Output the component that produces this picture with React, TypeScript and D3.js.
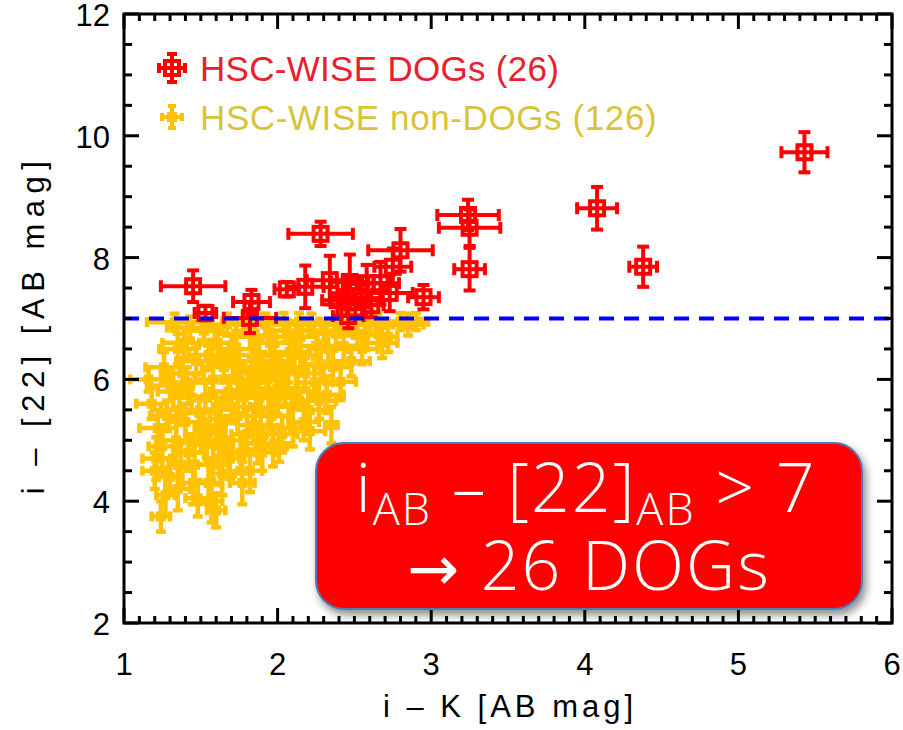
import React from "react";
import * as d3 from "d3";

// HSC-WISE DOGs: [i-K, i-[22], xErr, yErr]
const dogs: number[][] = [
  [1.45, 7.53, 0.21, 0.26],
  [1.53, 7.09, 0.07, 0.12],
  [1.83, 7.27, 0.12, 0.2],
  [1.82, 7.01, 0.17, 0.25],
  [2.06, 7.48, 0.08, 0.12],
  [2.18, 7.52, 0.12, 0.35],
  [2.28, 8.39, 0.21, 0.2],
  [2.34, 7.63, 0.15, 0.4],
  [2.47, 7.6, 0.12, 0.45],
  [2.45, 7.35, 0.1, 0.3],
  [2.46, 7.04, 0.1, 0.2],
  [2.58, 7.58, 0.14, 0.3],
  [2.67, 7.58, 0.12, 0.35],
  [2.73, 7.42, 0.15, 0.3],
  [2.75, 7.85, 0.12, 0.3],
  [2.8, 8.12, 0.21, 0.35],
  [2.95, 7.35, 0.1, 0.2],
  [2.55, 7.3, 0.12, 0.25],
  [2.39, 7.3, 0.1, 0.3],
  [3.24, 8.7, 0.2, 0.25],
  [3.25, 8.49, 0.2, 0.3],
  [3.25, 7.81, 0.1, 0.35],
  [4.08, 8.81, 0.13, 0.35],
  [4.38, 7.85, 0.09, 0.33],
  [5.43, 9.73, 0.15, 0.33],
  [2.61, 7.22, 0.08, 0.2],
];

// HSC-WISE non-DOGs: [i-K, i-[22], xErr, yErr]
const nonDogs: number[][] = [
  [1.18, 5.6, 0.1, 0.25], [1.22, 5.2, 0.12, 0.3], [1.25, 4.9, 0.09, 0.35], [1.2, 4.5, 0.08, 0.3],
  [1.27, 4.1, 0.06, 0.35], [1.24, 3.75, 0.06, 0.25], [1.3, 5.9, 0.15, 0.25], [1.16, 6.0, 0.12, 0.2],
  [1.28, 5.4, 0.11, 0.25], [1.21, 4.7, 0.09, 0.35], [1.3, 4.4, 0.08, 0.3], [1.26, 6.2, 0.12, 0.25],
  [1.33, 6.94, 0.18, 0.14], [1.35, 6.5, 0.12, 0.25], [1.38, 6.1, 0.14, 0.25], [1.32, 5.8, 0.1, 0.3],
  [1.36, 5.5, 0.12, 0.25], [1.4, 5.3, 0.11, 0.3], [1.34, 5.0, 0.09, 0.35], [1.42, 4.8, 0.1, 0.3],
  [1.37, 4.6, 0.08, 0.35], [1.45, 4.3, 0.09, 0.35], [1.48, 4.05, 0.08, 0.3], [1.44, 5.7, 0.12, 0.25],
  [1.47, 6.3, 0.13, 0.22], [1.39, 6.6, 0.14, 0.25], [1.5, 5.1, 0.1, 0.3], [1.46, 4.6, 0.09, 0.33],
  [1.41, 5.95, 0.12, 0.25], [1.49, 5.45, 0.11, 0.27], [1.43, 6.85, 0.15, 0.18], [1.35, 4.2, 0.08, 0.35],
  [1.52, 6.8, 0.12, 0.22], [1.55, 6.4, 0.13, 0.25], [1.58, 6.0, 0.12, 0.27], [1.53, 5.7, 0.11, 0.25],
  [1.6, 5.5, 0.12, 0.3], [1.56, 5.2, 0.1, 0.3], [1.62, 4.9, 0.09, 0.35], [1.58, 4.6, 0.1, 0.33],
  [1.6, 3.85, 0.06, 0.28], [1.55, 4.3, 0.08, 0.35], [1.65, 6.2, 0.14, 0.25], [1.68, 5.8, 0.12, 0.25],
  [1.63, 5.35, 0.11, 0.27], [1.66, 5.0, 0.1, 0.3], [1.7, 6.5, 0.13, 0.22], [1.67, 6.9, 0.14, 0.18],
  [1.54, 5.0, 0.09, 0.3], [1.61, 6.6, 0.12, 0.25], [1.69, 4.7, 0.09, 0.33], [1.57, 4.0, 0.07, 0.35],
  [1.64, 4.45, 0.08, 0.35], [1.7, 5.55, 0.12, 0.27],
  [1.72, 6.3, 0.13, 0.25], [1.75, 6.0, 0.12, 0.25], [1.78, 5.7, 0.12, 0.27], [1.74, 5.4, 0.11, 0.3],
  [1.8, 5.1, 0.1, 0.3], [1.76, 4.8, 0.09, 0.33], [1.82, 4.5, 0.08, 0.35], [1.85, 6.7, 0.14, 0.22],
  [1.88, 6.4, 0.13, 0.25], [1.83, 6.1, 0.12, 0.25], [1.86, 5.85, 0.12, 0.27], [1.89, 5.5, 0.11, 0.3],
  [1.84, 5.25, 0.1, 0.3], [1.87, 4.95, 0.09, 0.33], [1.73, 6.75, 0.14, 0.18], [1.79, 6.95, 0.15, 0.14],
  [1.9, 6.2, 0.13, 0.25], [1.77, 4.3, 0.08, 0.35], [1.81, 5.95, 0.12, 0.25], [1.9, 4.8, 0.09, 0.3],
  [1.92, 6.9, 0.14, 0.18], [1.95, 6.6, 0.13, 0.22], [1.98, 6.3, 0.13, 0.25], [1.93, 6.0, 0.12, 0.25],
  [2.0, 5.7, 0.12, 0.27], [1.96, 5.4, 0.11, 0.3], [2.03, 5.1, 0.1, 0.3], [2.06, 6.8, 0.14, 0.18],
  [2.08, 6.45, 0.13, 0.25], [2.02, 6.15, 0.12, 0.25], [2.05, 5.85, 0.12, 0.27], [2.09, 5.55, 0.11, 0.3],
  [1.97, 4.9, 0.09, 0.33], [2.1, 5.2, 0.1, 0.3], [1.94, 5.75, 0.12, 0.25], [2.04, 6.95, 0.14, 0.14],
  [2.01, 4.95, 0.09, 0.3], [2.07, 6.2, 0.12, 0.25],
  [2.12, 6.7, 0.14, 0.22], [2.15, 6.4, 0.13, 0.25], [2.18, 6.1, 0.12, 0.25], [2.13, 5.8, 0.12, 0.27],
  [2.2, 5.5, 0.11, 0.3], [2.17, 5.3, 0.1, 0.3], [2.22, 6.9, 0.15, 0.18], [2.25, 6.55, 0.14, 0.22],
  [2.28, 6.25, 0.13, 0.25], [2.24, 5.95, 0.12, 0.27], [2.27, 5.65, 0.11, 0.3], [2.14, 6.95, 0.14, 0.14],
  [2.3, 6.8, 0.14, 0.18], [2.21, 5.15, 0.1, 0.3],
  [2.33, 6.5, 0.13, 0.25], [2.36, 6.2, 0.12, 0.27], [2.41, 5.96, 0.1, 0.3], [2.35, 5.25, 0.04, 0.3],
  [2.38, 6.75, 0.14, 0.22], [2.43, 6.55, 0.12, 0.25], [2.46, 6.9, 0.14, 0.18], [2.32, 5.75, 0.11, 0.3],
  [2.48, 6.3, 0.12, 0.25], [2.4, 6.95, 0.14, 0.14],
  [2.52, 6.75, 0.12, 0.22], [2.57, 6.73, 0.08, 0.25], [2.72, 6.7, 0.06, 0.25], [2.6, 6.95, 0.12, 0.18],
  [2.65, 6.9, 0.14, 0.18], [2.85, 6.9, 0.1, 0.18], [2.55, 6.5, 0.1, 0.25], [2.8, 6.95, 0.14, 0.14],
  [2.9, 6.95, 0.08, 0.14], [2.68, 6.6, 0.1, 0.25],
];

const xTicks = [1, 2, 3, 4, 5, 6];
const yTicks = [2, 4, 6, 8, 10, 12];
const cutValue = 7;
const legendLabels = ["HSC-WISE DOGs (26)", "HSC-WISE non-DOGs (126)"];

const W = 903;
const H = 730;
const plot = { left: 124, right: 892, top: 14, bottom: 623 };
const RED = "#ff0000";
const YELLOW = "#ffc200";
const FONT = "'Liberation Sans', Arial, sans-serif";

function ErrPoint({ cx, cy, x0, x1, y0, y1, color, cap, kind, sw }: any) {
  return (
    <g stroke={color} strokeWidth={sw} fill="none">
      <line x1={x0} x2={x1} y1={cy} y2={cy} />
      <line x1={cx} x2={cx} y1={y0} y2={y1} />
      <line x1={x0} x2={x0} y1={cy - cap} y2={cy + cap} />
      <line x1={x1} x2={x1} y1={cy - cap} y2={cy + cap} />
      <line x1={cx - cap} x2={cx + cap} y1={y0} y2={y0} />
      <line x1={cx - cap} x2={cx + cap} y1={y1} y2={y1} />
      {kind === "open" ? (
        <rect x={cx - 7} y={cy - 7} width={14} height={14} strokeWidth={4} />
      ) : (
        <rect x={cx - 5} y={cy - 5} width={10} height={10} fill={color} stroke="none" />
      )}
    </g>
  );
}

export default function App() {
  const x = d3.scaleLinear().domain([1, 6]).range([plot.left, plot.right]);
  const y = d3.scaleLinear().domain([2, 12]).range([plot.bottom, plot.top]);

  const xMinor = d3.range(10, 61).map((v) => v / 10);
  const yMinor = d3.range(4, 25).map((v) => v / 2);

  const pt = (d: number[], color: string, cap: number, kind: string, sw: number, key: string) => (
    <ErrPoint
      key={key}
      cx={x(d[0])}
      cy={y(d[1])}
      x0={x(d[0] - d[2])}
      x1={x(d[0] + d[2])}
      y0={y(d[1] - d[3])}
      y1={y(d[1] + d[3])}
      color={color}
      cap={cap}
      kind={kind}
      sw={sw}
    />
  );

  const legX = 172;
  const legY = [68, 117];

  return (
    <svg width={W} height={H} style={{ position: "absolute", left: 0, top: 0, background: "#fff" }}>
      <defs>
        <filter id="shadow" x="-10%" y="-10%" width="120%" height="130%">
          <feDropShadow dx="3" dy="5" stdDeviation="4" floodColor="#000" floodOpacity="0.45" />
        </filter>
      </defs>

      {/* yellow non-DOGs */}
      {nonDogs.map((d, i) => pt(d, YELLOW, 5, "fill", 4.5, "n" + i))}
      {/* red DOGs */}
      {dogs.map((d, i) => pt(d, RED, 6, "open", 4, "d" + i))}

      {/* cut line */}
      <line
        x1={x(1)}
        x2={x(6)}
        y1={y(cutValue)}
        y2={y(cutValue)}
        stroke="#0000ff"
        strokeWidth={4}
        strokeDasharray="15 10"
      />

      {/* frame + ticks */}
      <g stroke="#000" strokeWidth={3}>
        <rect
          x={plot.left}
          y={plot.top}
          width={plot.right - plot.left}
          height={plot.bottom - plot.top}
          fill="none"
        />
        {xMinor.map((v, i) => {
          const len = Math.abs(v - Math.round(v)) < 1e-6 ? 15 : 7;
          return (
            <g key={"xt" + i}>
              <line x1={x(v)} x2={x(v)} y1={plot.bottom} y2={plot.bottom - len} />
              <line x1={x(v)} x2={x(v)} y1={plot.top} y2={plot.top + len} />
            </g>
          );
        })}
        {yMinor.map((v, i) => {
          const len = v % 2 === 0 ? 15 : 8;
          return (
            <g key={"yt" + i}>
              <line x1={plot.left} x2={plot.left + len} y1={y(v)} y2={y(v)} />
              <line x1={plot.right} x2={plot.right - len} y1={y(v)} y2={y(v)} />
            </g>
          );
        })}
      </g>

      {/* tick labels */}
      <g fontFamily={FONT} fontSize={31} fill="#000">
        {xTicks.map((t) => (
          <text key={"xl" + t} x={x(t)} y={plot.bottom + 52} textAnchor="middle">
            {t}
          </text>
        ))}
        {yTicks.map((t) => (
          <text key={"yl" + t} x={plot.left - 14} y={y(t) + 12} textAnchor="end">
            {t}
          </text>
        ))}
      </g>

      {/* axis titles */}
      <text
        x={(plot.left + plot.right) / 2 + 2}
        y={717}
        textAnchor="middle"
        fontFamily={FONT}
        fontSize={31}
        letterSpacing={4}
      >
        i – K [AB mag]
      </text>
      <text
        transform={`translate(44, ${(plot.top + plot.bottom) / 2 + 6}) rotate(-90)`}
        textAnchor="middle"
        fontFamily={FONT}
        fontSize={31}
        letterSpacing={6.5}
      >
        i – [22] [AB mag]
      </text>

      {/* legend */}
      <g stroke={RED} strokeWidth={4} fill="none">
        <line x1={legX - 13} x2={legX + 13} y1={legY[0]} y2={legY[0]} />
        <line x1={legX} x2={legX} y1={legY[0] - 14} y2={legY[0] + 14} />
        <line x1={legX - 13} x2={legX - 13} y1={legY[0] - 5} y2={legY[0] + 5} />
        <line x1={legX + 13} x2={legX + 13} y1={legY[0] - 5} y2={legY[0] + 5} />
        <line x1={legX - 5} x2={legX + 5} y1={legY[0] - 14} y2={legY[0] - 14} />
        <line x1={legX - 5} x2={legX + 5} y1={legY[0] + 14} y2={legY[0] + 14} />
        <rect x={legX - 7} y={legY[0] - 7} width={14} height={14} />
      </g>
      <g stroke={YELLOW} strokeWidth={4} fill="none">
        <line x1={legX - 10} x2={legX + 10} y1={legY[1]} y2={legY[1]} />
        <line x1={legX} x2={legX} y1={legY[1] - 11} y2={legY[1] + 11} />
        <line x1={legX - 10} x2={legX - 10} y1={legY[1] - 4} y2={legY[1] + 4} />
        <line x1={legX + 10} x2={legX + 10} y1={legY[1] - 4} y2={legY[1] + 4} />
        <line x1={legX - 4} x2={legX + 4} y1={legY[1] - 11} y2={legY[1] - 11} />
        <line x1={legX - 4} x2={legX + 4} y1={legY[1] + 11} y2={legY[1] + 11} />
        <rect x={legX - 5} y={legY[1] - 5} width={10} height={10} fill={YELLOW} stroke="none" />
      </g>
      <text x={200} y={legY[0] + 13} fontFamily={FONT} fontSize={35} letterSpacing={0.3} fill="#e8202e">
        {legendLabels[0]}
      </text>
      <text x={200} y={legY[1] + 13} fontFamily={FONT} fontSize={35} letterSpacing={0.6} fill="#d8c43a">
        {legendLabels[1]}
      </text>

      {/* annotation box */}
      <rect
        x={316}
        y={443}
        width={546}
        height={166}
        rx={28}
        fill={RED}
        stroke="#4a7ebb"
        strokeWidth={2}
        filter="url(#shadow)"
      />
      <g fill="#fff" fontFamily="'Open Sans', 'Noto Sans', sans-serif" fontWeight={300}>
        <text x={586} y={512} textAnchor="middle" fontSize={68} letterSpacing={2}>
          i<tspan fontSize={45} dy={13}>AB</tspan>
          <tspan dy={-13}> – [22]</tspan>
          <tspan fontSize={45} dy={13}>AB</tspan>
          <tspan dy={-13}> &gt; 7</tspan>
        </text>
        <text x={589} y={590} textAnchor="middle" fontSize={68} letterSpacing={2}>
          <tspan fontFamily="'DejaVu Sans', sans-serif" fontWeight={400} fontSize={62}>→</tspan> 26 DOGs
        </text>
      </g>
    </svg>
  );
}
